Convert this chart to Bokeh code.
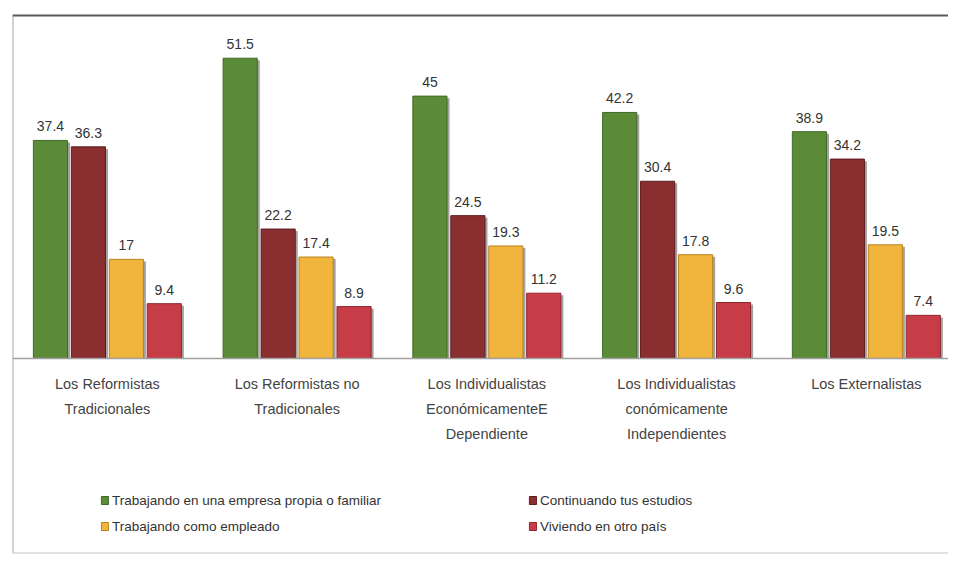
from bokeh.plotting import figure
from bokeh.models import ColumnDataSource, Range1d, Span, Legend, LegendItem, LabelSet
from bokeh.core.properties import value
from bokeh.embed import file_html
from bokeh.resources import INLINE

# ---- data ----
categories = [
    "Los Reformistas\nTradicionales",
    "Los Reformistas no\nTradicionales",
    "Los Individualistas\nEconómicamenteE\nDependiente",
    "Los Individualistas\nconómicamente\nIndependientes",
    "Los Externalistas",
]
series_names = [
    "Trabajando en una empresa propia o familiar",
    "Continuando tus estudios",
    "Trabajando como empleado",
    "Viviendo en otro país",
]
empresa_propia = [37.4, 51.5, 45, 42.2, 38.9]
continuando_estudios = [36.3, 22.2, 24.5, 30.4, 34.2]
como_empleado = [17, 17.4, 19.3, 17.8, 19.5]
otro_pais = [9.4, 8.9, 11.2, 9.6, 7.4]

series_values = [empresa_propia, continuando_estudios, como_empleado, otro_pais]
colors = ["#5c8b37", "#8a2f30", "#f1b43c", "#c63d48"]
edge_colors = ["#3f6a2a", "#5e1c1e", "#b98420", "#8e2530"]
offsets = [-0.3, -0.1, 0.1, 0.3]
bar_width = 0.18

idx = list(range(len(categories)))

p = figure(
    width=948, height=555,
    x_range=Range1d(-0.5, 4.433), y_range=Range1d(-33.45, 59.0),
    x_axis_type=None, y_axis_type=None,
    output_backend="svg", toolbar_location=None,
    min_border_left=12, min_border_right=0, min_border_top=14, min_border_bottom=2,
)
p.grid.visible = False
p.outline_line_color = None
p.background_fill_color = "white"
p.border_fill_color = "white"

# frame borders (left, top, bottom)
p.add_layout(Span(location=-0.5, dimension="height", line_color="#a8a8a8", line_width=2))
p.add_layout(Span(location=59.0, dimension="width", line_color="#5a5a5a", line_width=4))
p.add_layout(Span(location=-33.45, dimension="width", line_color="#c4c4c4", line_width=2))

# baseline
p.add_layout(Span(location=0, dimension="width", line_color="#a0a0a0", line_width=1.5))

shadow_dx = 2.5 / 189.75
renderers = []
for vals, off, col, edge in zip(series_values, offsets, colors, edge_colors):
    xs = [i + off for i in idx]
    src = ColumnDataSource(dict(
        x=xs, top=vals,
        xs=[x + shadow_dx for x in xs],
        stop=[v - 0.35 for v in vals],
        label=[("%g" % v) for v in vals],
    ))
    p.vbar(x="xs", top="stop", bottom=0, width=bar_width, source=src,
           fill_color="#555555", fill_alpha=0.55, line_color=None)
    r = p.vbar(x="x", top="top", bottom=0, width=bar_width, source=src,
               fill_color=col, line_color=edge, line_width=1)
    renderers.append(r)
    p.add_layout(LabelSet(x="x", y="top", text="label", source=src,
                          y_offset=14, text_align="center", text_baseline="middle",
                          text_font=value("Liberation Sans"), text_font_size="14px",
                          text_color="#333333"))

# category labels
cat_src = ColumnDataSource(dict(x=idx, y=[-3.0] * len(idx), text=categories))
p.text(x="x", y="y", text="text", source=cat_src, text_align="center",
       text_baseline="top", text_font=value("Liberation Sans"), text_font_size="14.5px",
       text_color="#444444", text_line_height=1.55)

# legends (two columns)
def make_legend(items, x, y):
    lg = Legend(items=items, location=(x, y), orientation="vertical",
                border_line_color=None, background_fill_alpha=0,
                padding=0, margin=0, spacing=10,
                glyph_width=9, glyph_height=10, label_height=16,
                label_standoff=3, label_text_font="Liberation Sans",
                label_text_font_size="13.5px", label_text_color="#333333")
    return lg

leg1 = make_legend([LegendItem(label=series_names[0], renderers=[renderers[0]]),
                    LegendItem(label=series_names[2], renderers=[renderers[2]])], 88, 19)
leg2 = make_legend([LegendItem(label=series_names[1], renderers=[renderers[1]]),
                    LegendItem(label=series_names[3], renderers=[renderers[3]])], 516, 19)
p.add_layout(leg1)
p.add_layout(leg2)

open("out.html", "w").write(file_html(p, INLINE))
